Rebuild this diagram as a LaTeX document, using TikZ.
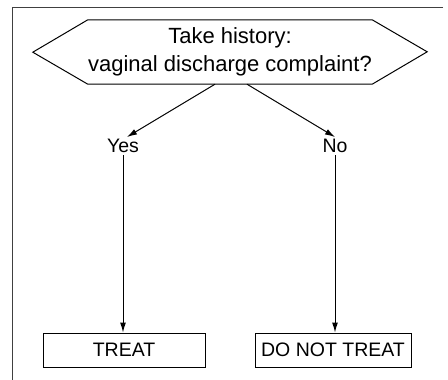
\documentclass[tikz,border=0pt]{standalone}
\usepackage{fontspec}
\setmainfont{Liberation Sans}
\usetikzlibrary{arrows.meta, positioning}

\begin{document}
\begin{tikzpicture}[
        x=1pt, y=-1pt,
        every node/.style={align=center, font=\fontsize{19.5}{23}\selectfont},
        hexa/.style={minimum width=284pt, minimum height=64pt, inner sep=0pt,
                     font=\fontsize{22}{28}\selectfont},
        box/.style={draw, line width=1pt, minimum height=34pt, inner sep=2pt},
        lbl/.style={inner sep=2pt},
        arr/.style={-{Latex[length=10pt, width=6pt]}, line width=1pt}
    ]
        \useasboundingbox (0,0) rectangle (448,380);
        % frame
        \draw[black!75, line width=0.8pt] (443,7) -- (12,7) -- (12,380);
        \node[hexa] (hist) at (230,52) {Take history:\\vaginal discharge complaint?};
        \draw[line width=1pt] (hist.north west) -- (hist.north east)
              -- ++(55pt,-32pt) -- (hist.south east) -- (hist.south west)
              -- ++(-55pt,32pt) -- cycle;
        \node[lbl] (yes) at (123,146) {Yes};
        \node[lbl] (no)  at (335,146) {No};
        \node[box, minimum width=162pt] (treat)   at (124,350) {TREAT};
        \node[box, minimum width=156pt] (notreat) at (333,350) {DO NOT TREAT};
        \draw[arr] ([xshift=-15pt]hist.south) -- ([xshift=4pt]yes.north);
        \draw[arr] ([xshift=17pt]hist.south) -- (no.north);
        \draw[arr] (yes.south) -- (yes.south |- treat.north);
        \draw[arr] (no.south)  -- (no.south |- notreat.north);
    \end{tikzpicture}
\end{document}
